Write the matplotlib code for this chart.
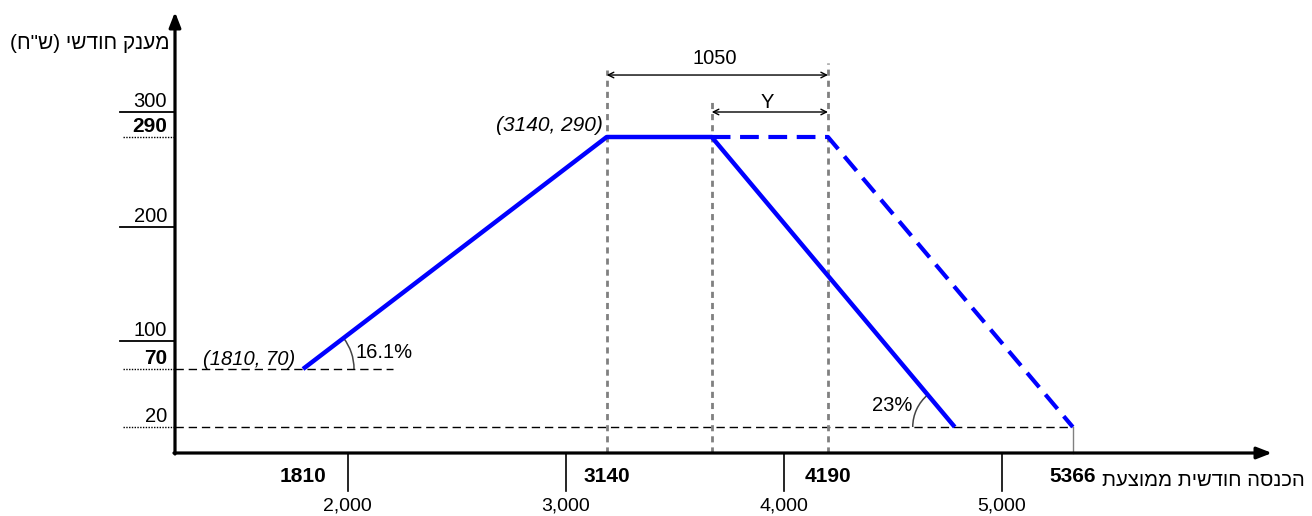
import numpy as np
import matplotlib.pyplot as plt
import matplotlib.transforms as mtransforms
from matplotlib.patches import Arc

# grant curve (income vs monthly grant)
curve_x = [1810, 3140, 3650, 4780]
curve_y = [70, 290, 290, 20]
# shifted (dashed) curve
shift_x = [3650, 4190, 5366]
shift_y = [290, 290, 20]

x_ticks = [2000, 3000, 4000, 5000]
x_tick_labels = ['2,000', '3,000', '4,000', '5,000']
x_marks = [1810, 3140, 4190, 5366]       # bold labels under the axis
y_ticks = [100, 200, 300]
y_marks = [290, 70]                        # bold labels on the y axis
y_floor = 20

y_title = 'מענק חודשי (ש"ח)'
x_title = 'הכנסה חודשית ממוצעת'

# the drawing is not to scale: piecewise linear axes (value -> pixel)
X_VAL = [0, 1200, 1810, 2000, 3000, 3140, 4000, 4190, 5000, 5366, 6260, 7000]
X_PIX = [-77, 175, 303, 347.5, 565.6, 606.7, 783.8, 828, 1002, 1072.8, 1272, 1437]
Y_VAL = [-80, -4, 20, 70, 100, 200, 290, 300, 420]
Y_PIX = [-13, 63, 89, 147, 175, 289, 379, 404, 529]


def heb(s):
    # matplotlib has no bidi: flip to visual order and mirror brackets
    s = s[::-1]
    return s.translate(str.maketrans('()', ')('))


plt.rcParams['font.family'] = ['Liberation Sans', 'DejaVu Sans']

fig = plt.figure(figsize=(13.12, 5.16), dpi=100)
ax = fig.add_axes([0, 0, 1, 1])
ax.set_xscale('function', functions=(lambda v: np.interp(v, X_VAL, X_PIX),
                                     lambda p: np.interp(p, X_PIX, X_VAL)))
ax.set_yscale('function', functions=(lambda v: np.interp(v, Y_VAL, Y_PIX),
                                     lambda p: np.interp(p, Y_PIX, Y_VAL)))
ax.set_xlim(np.interp(0, X_PIX, X_VAL), np.interp(1312, X_PIX, X_VAL))
ax.set_ylim(np.interp(0, Y_PIX, Y_VAL), np.interp(516, Y_PIX, Y_VAL))
ax.axis('off')

x0, y0 = 1200, -4          # axes origin
x_end, y_top = 6260, 396

# axes with arrow heads
ax.annotate('', xy=(x_end, y0), xytext=(x0 - 5, y0),
            arrowprops=dict(arrowstyle='-|>,head_length=0.9,head_width=0.35',
                            color='black', lw=2.3, shrinkA=0, shrinkB=0))
ax.annotate('', xy=(x0, y_top), xytext=(x0, y0 - 1),
            arrowprops=dict(arrowstyle='-|>,head_length=0.9,head_width=0.35',
                            color='black', lw=2.3, shrinkA=0, shrinkB=0))

# x ticks
for xt, lab in zip(x_ticks, x_tick_labels):
    ax.plot([xt, xt], [y0, -42], color='black', lw=1.2)
    ax.text(xt, -57, lab, ha='center', va='center', fontsize=14)
for xm in x_marks:
    ax.text(xm, -27.5, str(xm), ha='center', va='center', fontsize=15,
            fontweight='bold')
ax.text(6408, -31, heb(x_title), ha='right', va='center', fontsize=14.6)

# y ticks
for yt in y_ticks:
    ax.plot([940, x0], [yt, yt], color='black', lw=1.3)
    ax.annotate(str(yt), xy=(1162, yt), xytext=(0, 3.8), textcoords='offset points',
                ha='right', va='baseline', fontsize=14.5)
for ym in y_marks + [y_floor]:
    ax.plot([950, x0], [ym, ym], color='black', lw=1, linestyle=(0, (1, 1)))
for ym in y_marks:
    ax.annotate(str(ym), xy=(1162, ym), xytext=(0, 3.8), textcoords='offset points',
                ha='right', va='baseline', fontsize=15, fontweight='bold')
ax.annotate(str(y_floor), xy=(1162, y_floor), xytext=(0, 3.8), textcoords='offset points',
            ha='right', va='baseline', fontsize=14.5)
ax.text(1176, 366, heb(y_title), ha='right', va='center', fontsize=15)

# reference lines
ax.plot([x0, 2210], [curve_y[0]] * 2, color='black', lw=1, linestyle=(0, (6, 3.5)))
ax.plot([x0, shift_x[-1]], [y_floor] * 2, color='black', lw=1, linestyle=(0, (6, 3.5)))
ax.plot([shift_x[-1]] * 2, [y_floor, y0], color='gray', lw=1)
for vx, top in [(3140, 340), (3650, 311.5), (4190, 347)]:
    ax.plot([vx, vx], [y0, top], color='gray', lw=2, linestyle=(0, (2.2, 1.8)))

# curves
ax.plot(shift_x, shift_y, color='#0000FF', lw=3, linestyle=(0, (4.5, 2.3)))
ax.plot(curve_x, curve_y, color='#0000FF', lw=3.2, solid_capstyle='butt')

# span arrows
ax.annotate('', xy=(4190, 335.5), xytext=(3140, 335.5),
            arrowprops=dict(arrowstyle='<->', color='black', lw=1, shrinkA=0, shrinkB=0))
ax.text((3140 + 4190) / 2, 351.8, '1050', ha='center', va='center', fontsize=14.5)
ax.annotate('', xy=(4190, 300), xytext=(3650, 300),
            arrowprops=dict(arrowstyle='<->', color='black', lw=1, shrinkA=0, shrinkB=0))
ax.text((3650 + 4190) / 2, 309.6, 'Y', ha='center', va='center', fontsize=14.5)

# point labels
ax.annotate('(1810, 70)', xy=(curve_x[0], curve_y[0]), xytext=(-5.8, 3),
            textcoords='offset points', ha='right', va='baseline',
            fontsize=14.5, fontstyle='italic')
ax.annotate('(3140, 290)', xy=(curve_x[1], curve_y[1]), xytext=(-3, 4.3),
            textcoords='offset points', ha='right', va='baseline',
            fontsize=15, fontstyle='italic')


# slope angles, drawn as circles in pixel space
def angle_arc(center, towards, radius_px, left=False):
    p0 = ax.transData.transform(center)
    p1 = ax.transData.transform(towards)
    phi = np.degrees(np.arctan2(p1[1] - p0[1], p1[0] - p0[0]))
    tr = fig.dpi_scale_trans + mtransforms.ScaledTranslation(center[0], center[1], ax.transData)
    d = 2 * radius_px / fig.dpi
    t1, t2 = (phi, 180) if left else (0, phi)
    ax.add_patch(Arc((0, 0), d, d, theta1=t1, theta2=t2, transform=tr,
                     color='#444444', lw=1.1))


angle_arc((curve_x[0], curve_y[0]), (curve_x[1], curve_y[1]), 51)
ax.text(2036, 81.8, '16.1%', ha='left', va='baseline', fontsize=14.5)
angle_arc((curve_x[3], curve_y[3]), (curve_x[2], curve_y[2]), 42, left=True)
ax.text(4581, 33.8, '23%', ha='right', va='baseline', fontsize=14.5)

fig.savefig('out.png', dpi=100)
